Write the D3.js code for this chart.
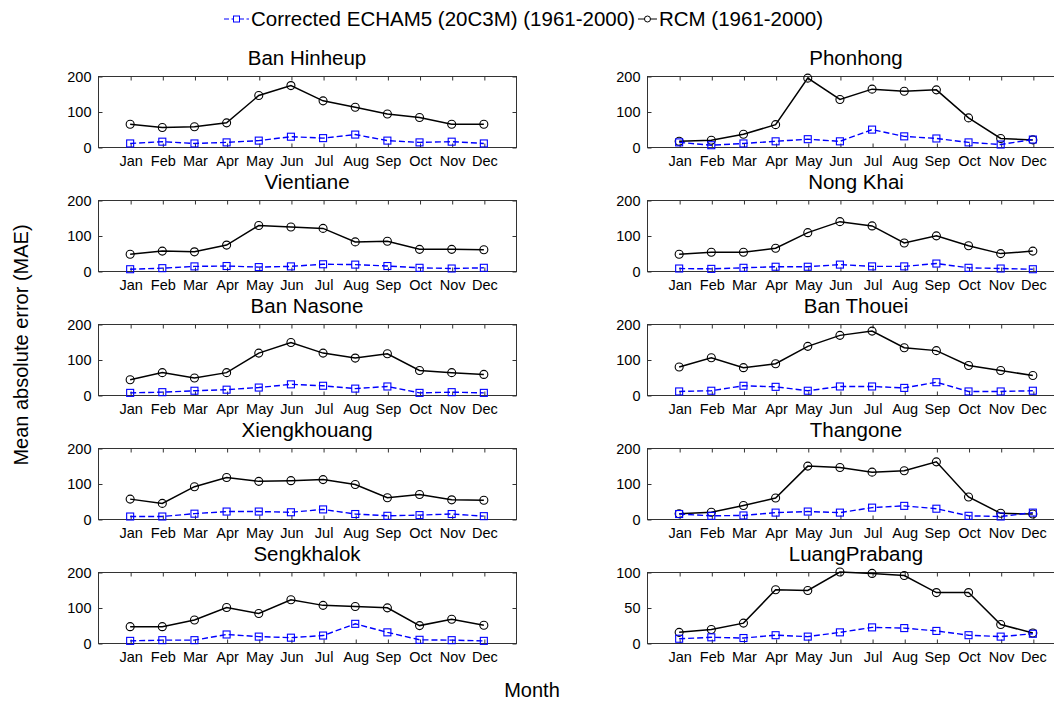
<!DOCTYPE html>
<html>
<head>
<meta charset="utf-8">
<script src="https://cdn.jsdelivr.net/npm/d3@7"></script>
<style>
  html, body { margin: 0; padding: 0; background: #fff; overflow: hidden; }
  svg { display: block; font-family: "Liberation Sans", Arial, sans-serif; }
</style>
</head>
<body>
<svg id="chart" width="1054" height="704"></svg>
<script>
// Month labels along each x axis
const months = ["Jan","Feb","Mar","Apr","May","Jun","Jul","Aug","Sep","Oct","Nov","Dec"];

// Station names, in panel order (left column then right column per row)
const stations = ["Ban Hinheup","Phonhong","Vientiane","Nong Khai","Ban Nasone",
                  "Ban Thouei","Xiengkhouang","Thangone","Sengkhalok","LuangPrabang"];

// RCM (1961-2000) monthly mean absolute error
const rcmBanHinheup   = [64,55,57,68,145,173,130,112,93,83,64,64];
const rcmPhonhong     = [16,19,36,63,194,134,163,157,161,82,24,20];
const rcmVientiane    = [47,56,54,73,128,124,120,82,84,61,61,60];
const rcmNongKhai     = [47,53,53,64,108,139,127,79,99,71,49,56];
const rcmBanNasone    = [43,63,48,63,118,148,118,104,116,69,63,58];
const rcmBanThouei    = [79,105,77,88,137,168,180,133,125,83,69,55];
const rcmXiengkhouang = [56,44,91,117,106,108,111,97,60,69,54,53];
const rcmThangone     = [15,19,38,59,149,145,132,136,161,62,16,14];
const rcmSengkhalok   = [46,46,65,100,83,122,106,103,99,49,67,50];
const rcmLuangPrabang = [15,19,28,75,74,100,98,95,71,71,26,14];

// Corrected ECHAM5 (20C3M) (1961-2000) monthly mean absolute error
const echBanHinheup   = [10,15,10,13,18,29,25,35,18,13,15,10];
const echPhonhong     = [13,5,10,16,22,16,49,30,24,13,7,21];
const echVientiane    = [5,8,13,14,11,13,19,18,14,9,7,9];
const echNongKhai     = [7,6,9,12,12,18,13,13,21,9,7,5];
const echBanNasone    = [6,8,12,15,21,30,26,18,24,6,8,6];
const echBanThouei    = [10,12,26,23,12,24,24,20,36,10,10,12];
const echXiengkhouang = [7,7,15,21,21,19,27,14,9,11,14,8];
const echThangone     = [14,9,10,18,21,18,32,37,29,9,7,18];
const echSengkhalok   = [6,8,8,24,18,15,21,54,30,9,8,6];
const echLuangPrabang = [6,8,7,11,9,15,22,21,17,11,9,13];

// Y axis tick values per panel
const ticks200 = [0,100,200];
const ticks100 = [0,50,100];

const rcmSeries = [rcmBanHinheup, rcmPhonhong, rcmVientiane, rcmNongKhai, rcmBanNasone,
                   rcmBanThouei, rcmXiengkhouang, rcmThangone, rcmSengkhalok, rcmLuangPrabang];
const echSeries = [echBanHinheup, echPhonhong, echVientiane, echNongKhai, echBanNasone,
                   echBanThouei, echXiengkhouang, echThangone, echSengkhalok, echLuangPrabang];
const yTicks = [ticks200,ticks200,ticks200,ticks200,ticks200,ticks200,ticks200,ticks200,ticks200,ticks100];

const svg = d3.select("#chart");

// Panel geometry
const colX = [98, 647];
const panelW = 418;
const rowY0 = 76, rowStep = 124, panelH = 71;
const tickLen = 4;
const blue = "#0000ff";
const font = "'Liberation Sans', Arial, sans-serif";

stations.forEach((name, i) => {
  const col = i % 2, row = Math.floor(i / 2);
  const x0 = colX[col], y0 = rowY0 + row * rowStep;
  const tv = yTicks[i];
  const x = d3.scaleLinear().domain([0, 13]).range([x0, x0 + panelW]);
  const y = d3.scaleLinear().domain([0, tv[tv.length - 1]]).range([y0 + panelH, y0]);
  const g = svg.append("g");

  // title
  g.append("text")
    .attr("x", x0 + panelW / 2).attr("y", y0 - 11)
    .attr("text-anchor", "middle")
    .attr("font-size", 20.5).attr("fill", "#000")
    .text(name);

  // frame
  g.append("rect")
    .attr("x", x0 + 0.5).attr("y", y0 + 0.5)
    .attr("width", panelW).attr("height", panelH)
    .attr("fill", "none").attr("stroke", "#333").attr("stroke-width", 1);

  // x axis (bottom) with labels; ticks drawn inward
  const monthIdx = d3.range(1, 13);
  const xAxis = d3.axisBottom(x).tickValues(monthIdx)
    .tickFormat(d => months[d - 1]).tickSizeInner(-tickLen).tickSizeOuter(0).tickPadding(8);
  const gx = g.append("g").attr("transform", `translate(0.5,${y0 + panelH + 0.5})`).call(xAxis);
  gx.select(".domain").remove();
  gx.selectAll("line").attr("stroke", "#333");
  gx.selectAll("text").attr("font-size", 14.5).attr("fill", "#000").attr("font-family", font);

  // top ticks
  const gxt = g.append("g").attr("transform", `translate(0.5,${y0 + 0.5})`)
    .call(d3.axisTop(x).tickValues(monthIdx).tickSizeInner(-tickLen).tickSizeOuter(0).tickFormat(""));
  gxt.select(".domain").remove();
  gxt.selectAll("line").attr("stroke", "#333");

  // y axis (left) with labels
  const gy = g.append("g").attr("transform", `translate(${x0 + 0.5},0.5)`)
    .call(d3.axisLeft(y).tickValues(tv).tickSizeInner(-tickLen).tickSizeOuter(0).tickPadding(7));
  gy.select(".domain").remove();
  gy.selectAll("line").attr("stroke", "#333");
  gy.selectAll("text").attr("font-size", 14.5).attr("fill", "#000").attr("font-family", font);

  // y ticks (right)
  const gyr = g.append("g").attr("transform", `translate(${x0 + panelW + 0.5},0.5)`)
    .call(d3.axisRight(y).tickValues(tv).tickSizeInner(-tickLen).tickSizeOuter(0).tickFormat(""));
  gyr.select(".domain").remove();
  gyr.selectAll("line").attr("stroke", "#333");

  const line = d3.line().x((d, k) => x(k + 1)).y(d => y(d));

  // RCM line with circle markers
  g.append("path").datum(rcmSeries[i])
    .attr("d", line).attr("fill", "none").attr("stroke", "#000").attr("stroke-width", 1.5);
  g.selectAll(".rcm").data(rcmSeries[i]).enter().append("circle")
    .attr("cx", (d, k) => x(k + 1)).attr("cy", d => y(d)).attr("r", 4)
    .attr("fill", "none").attr("stroke", "#000").attr("stroke-width", 1.1);

  // Corrected ECHAM5 dashed line with square markers
  g.append("path").datum(echSeries[i])
    .attr("d", line).attr("fill", "none").attr("stroke", blue)
    .attr("stroke-width", 1.4).attr("stroke-dasharray", "6,3");
  g.selectAll(".ech").data(echSeries[i]).enter().append("rect")
    .attr("x", (d, k) => x(k + 1) - 3.5).attr("y", d => y(d) - 3.5)
    .attr("width", 7).attr("height", 7)
    .attr("fill", "none").attr("stroke", blue).attr("stroke-width", 1.1);
});

// Legend: each entry is a short marker sample followed by its label
const lg = svg.append("g");
const legendFont = 20.5;
let lx = 224;
const ly = 19;
lg.append("line").attr("x1", lx).attr("x2", lx + 25).attr("y1", ly).attr("y2", ly)
  .attr("stroke", blue).attr("stroke-width", 1).attr("stroke-dasharray", "5,2.5");
lg.append("rect").attr("x", lx + 9.5).attr("y", ly - 3).attr("width", 6).attr("height", 6)
  .attr("fill", "white").attr("stroke", blue);
const t1 = lg.append("text").attr("x", lx + 27).attr("y", ly + 7).attr("font-size", legendFont)
  .text("Corrected ECHAM5 (20C3M) (1961-2000)");
lx = lx + 27 + t1.node().getComputedTextLength() + 3;
lg.append("line").attr("x1", lx).attr("x2", lx + 19).attr("y1", ly).attr("y2", ly)
  .attr("stroke", "#000").attr("stroke-width", 1);
lg.append("circle").attr("cx", lx + 9.5).attr("cy", ly).attr("r", 3)
  .attr("fill", "white").attr("stroke", "#000");
lg.append("text").attr("x", lx + 21).attr("y", ly + 7).attr("font-size", legendFont)
  .text("RCM (1961-2000)");

// Axis titles
svg.append("text")
  .attr("transform", "translate(28,345) rotate(-90)")
  .attr("text-anchor", "middle").attr("font-size", 20)
  .text("Mean absolute error (MAE)");
svg.append("text")
  .attr("x", 532).attr("y", 697).attr("text-anchor", "middle").attr("font-size", 20)
  .text("Month");
</script>
</body>
</html>
